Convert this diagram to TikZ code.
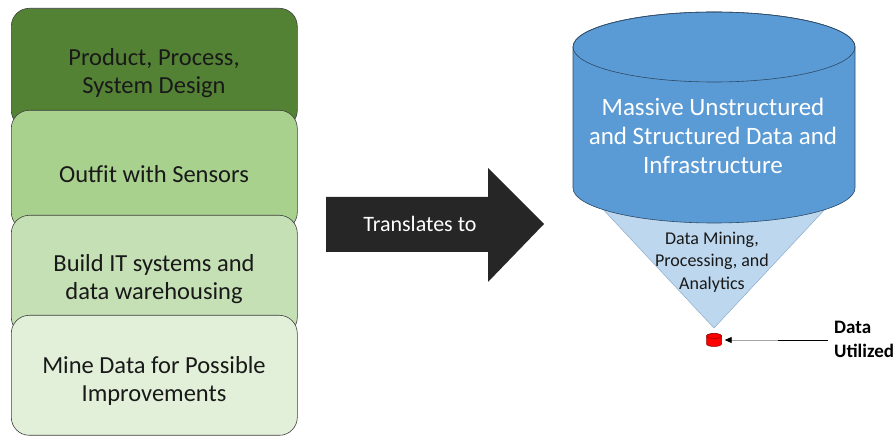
\documentclass[tikz,border=0pt]{standalone}
\usepackage{fontspec}
\setmainfont{Carlito}
\usetikzlibrary{arrows.meta}
\definecolor{gDark}{HTML}{548235}
\definecolor{gMid}{HTML}{A9D18E}
\definecolor{gLight}{HTML}{C5E0B4}
\definecolor{gPale}{HTML}{E2F0D9}
\definecolor{cylBlue}{HTML}{5B9BD5}
\definecolor{cylEdge}{HTML}{2E4A66}
\definecolor{coneBlue}{HTML}{BDD7EE}
\definecolor{coneEdge}{HTML}{8EACCB}
\definecolor{arrowFill}{HTML}{262626}
\tikzset{
  stage/.style={draw=black!75, line width=0.6pt, rounded corners=18pt,
    minimum width=286pt, minimum height=120pt, anchor=north west, inner sep=0pt},
  stagetext/.style={align=center, text=black!90, font=\fontsize{24.5}{28.5}\selectfont},
  bigtext/.style={align=center, text=white, font=\fontsize{25}{29}\selectfont},
  conetext/.style={align=center, text=black!90, font=\fontsize{18}{22.5}\selectfont},
  calltext/.style={align=left, font=\bfseries\fontsize{19}{24}\selectfont, inner sep=0pt}
}
\begin{document}
\begin{tikzpicture}[x=1pt, y=-1pt]
\useasboundingbox (0,0) rectangle (895,438);

% stacked stages, each overlapping the one above
\node[stage, fill=gDark]  (s1) at (11,8)   {};
\node[stage, fill=gMid]   (s2) at (11,110) {};
\node[stage, fill=gLight] (s3) at (11,215) {};
\node[stage, fill=gPale]  (s4) at (11,315) {};
\node[stagetext] (t1) at (154,73)  {Product, Process,\\System Design};
\node[stagetext] (t2) at (154,174) {Outfit with Sensors};
\node[stagetext] (t3) at (154,279) {Build IT systems and\\data warehousing};
\node[stagetext] (t4) at (154,381) {Mine Data for Possible\\Improvements};

% block arrow
\fill[arrowFill] (326,197) -- (488,197) -- (488,168) -- (544,224)
  -- (488,282) -- (488,252) -- (326,252) -- cycle;
\node[text=white, font=\fontsize{22}{24}\selectfont] (tr) at (420,224) {Translates to};

% funnel cone behind the storage cylinder
\draw[fill=coneBlue, draw=coneEdge, line width=0.5pt]
  (585,190) -- (714,328) -- (843,190) -- cycle;

% storage cylinder
\draw[fill=cylBlue, draw=cylEdge, line width=0.6pt]
  (573,47) -- (573,188) arc[start angle=180, end angle=0, x radius=141, y radius=35]
  -- (855,47) arc[start angle=0, end angle=-180, x radius=141, y radius=35] -- cycle;
\draw[cylEdge, line width=0.6pt] (714,47) ellipse [x radius=141, y radius=35];
\node[bigtext] (cyl) at (713,136) {Massive Unstructured\\and Structured Data and\\Infrastructure};
\node[conetext] (cone) at (712,262) {Data Mining,\\Processing, and\\Analytics};

% small output store
\node[inner sep=0pt, minimum width=15pt, minimum height=13pt] (sink) at (714,340) {};
\draw[fill=red, draw=red!55!black, line width=0.5pt]
  (706.5,336) -- (706.5,344) arc[start angle=180, end angle=0, x radius=7.5, y radius=2.5]
  -- (721.5,336) arc[start angle=0, end angle=-180, x radius=7.5, y radius=2.5] -- cycle;
\draw[red!55!black, line width=0.4pt] (714,336) ellipse [x radius=7.5, y radius=2.5];

% callout
\node[calltext, anchor=west] (lbl) at (834,339) {Data\\Utilized};
\coordinate (mid) at (778,340);
\draw[black, line width=0.9pt] ([xshift=-6pt]lbl.west |- mid) -- (mid);
\draw[black!35, line width=0.9pt, -{Triangle[color=black, length=7pt, width=6pt]}, shorten >=3pt]
  (mid) -- (sink.east);
\end{tikzpicture}
\end{document}
